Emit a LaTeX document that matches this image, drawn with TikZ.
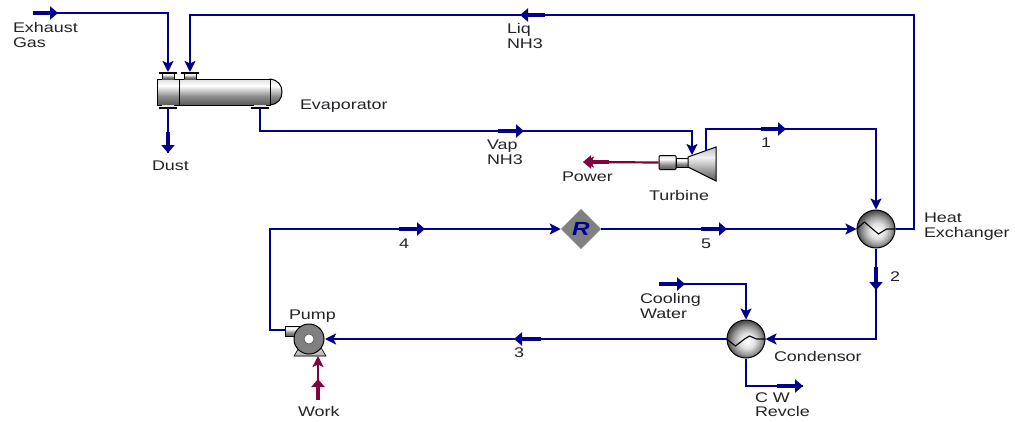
\documentclass[tikz,border=0pt]{standalone}
\usepackage{fontspec}
\setmainfont[FakeStretch=1.28]{Liberation Sans}
\usetikzlibrary{arrows.meta,shapes.geometric,calc}
\definecolor{flowblue}{RGB}{0,0,139}
\definecolor{workred}{RGB}{128,0,64}
\definecolor{labelgrey}{RGB}{35,35,40}
\pgfdeclareverticalshading{metalbody}{100bp}{color(0bp)=(black!65);color(25bp)=(black!65);color(42bp)=(black!45);color(62bp)=(white);color(75bp)=(black!12);color(100bp)=(black!35)}
\pgfdeclareverticalshading{turbshade}{100bp}{color(0bp)=(black!65);color(25bp)=(black!65);color(40bp)=(black!40);color(60bp)=(black!5);color(75bp)=(black!25);color(100bp)=(black!45)}
\pgfdeclareradialshading{metalball}{\pgfpoint{2bp}{-3bp}}{color(0bp)=(white);color(10bp)=(black!12);color(18bp)=(black!38);color(25bp)=(black!68);color(50bp)=(black!90)}
\tikzset{
  flow/.style={draw=flowblue,line width=2.2pt,line join=miter},
  flowin/.style={flow,-{Stealth[length=11pt,width=11pt,inset=2.5pt]}},
  flowmark/.style={draw=flowblue,line width=4.4pt,-{Triangle[length=8pt,width=13pt]}},
  powerline/.style={draw=workred,line width=2.2pt},
  powerin/.style={powerline,-{Stealth[length=11pt,width=11pt,inset=2.5pt]}},
  powermark/.style={draw=workred,line width=4.4pt,-{Triangle[length=8pt,width=13pt]}},
  lbl/.style={anchor=north west,inner sep=0pt,outer sep=0pt,align=left,text=labelgrey,font=\fontsize{14}{15}\selectfont},
  metal/.style={draw=black,line width=1pt,shading=metalbody},
  ball/.style={circle,draw=black,line width=1pt,shading=metalball,inner sep=0pt,minimum size=#1},
  flange/.style={draw=black,line width=1.6pt},
}
\begin{document}
\begin{tikzpicture}[x=1pt,y=-1pt]
\useasboundingbox[fill=white] (0,0) rectangle (1015,421);
% Evaporator
\draw[metal] (270,79) .. controls (278,80) and (282,85) .. (282,92) .. controls (282,99) and (278,104) .. (270,105) -- cycle;
\node[metal,rectangle,inner sep=0pt,minimum width=113pt,minimum height=26pt] (evap) at (213.5,92) {};
\coordinate (divtop) at (179,79);
\coordinate (divbot) at (179,105);
\draw[black,line width=.8pt] (divtop) -- (divbot);
\foreach \nx/\ny/\nm in {168/73/gasport,190/73/liqport}{
  \fill[shading=metalbody] (\nx-6,\ny) rectangle (\nx+6,\ny+6);
  \draw[black,line width=.6pt] (\nx-6,\ny) -- (\nx-6,\ny+6) (\nx+6,\ny) -- (\nx+6,\ny+6);
  \draw[flange] (\nx-9,\ny) -- (\nx+9,\ny);
  \coordinate (\nm) at (\nx,\ny-1);
}
\foreach \nx/\nm in {168/dustport,260/vapport}{
  \fill[shading=metalbody] (\nx-6,105) rectangle (\nx+6,108);
  \draw[flange] (\nx-9,108) -- (\nx+9,108);
  \coordinate (\nm) at (\nx,108);
}
% Turbine
\node[metal,rectangle,rounded corners=1pt,inner sep=0pt,minimum width=17pt,minimum height=14pt] (gen) at (667.5,162.5) {};
\node[metal,rectangle,inner sep=0pt,minimum width=12pt,minimum height=9pt] (shaft) at (682,162.5) {};
\draw[draw=black,line width=1pt,shading=turbshade] (688,157) -- (716,147) -- (716,181) -- (688,167) -- cycle;
\coordinate (turbin) at (692,155);
\coordinate (turbout) at (706,151);
% Heat exchanger, condensor
\node[ball=38pt] (hx) at (876,229) {};
\draw[black,line width=1.1pt] (hx.west) -- ++(8,-7) -- ++(8,7) -- ++(6,5) -- ++(8,-5) -- (hx.east);
\node[ball=38pt] (cond) at (746,339) {};
\draw[black,line width=1.1pt] (cond.west) -- ++(9,7) -- ++(9,-7) -- ++(5,-3) -- ++(7,3) -- (cond.east);
% Recycle block
\node[diamond,draw=black!35,line width=.5pt,fill=black!50,inner sep=0pt,minimum width=40pt,minimum height=40pt] (rec) at (581,229) {};
\node[text=flowblue,inner sep=0pt,font=\fontsize{19}{19}\selectfont\bfseries\itshape] (rtext) at (rec.center) {R};
% Pump
\fill[draw=black,line width=.6pt,top color=black!15,bottom color=black!30] (294,356) -- (300,346) -- (320,346) -- (326,356) -- cycle;
\draw[draw=black,line width=1pt,shading=metalbody] (285,326) rectangle (302,336);
\node[circle,draw=black,line width=1pt,fill=black!50,inner sep=0pt,minimum size=30pt] (pump) at (309,339) {};
\node[circle,draw=black!70,line width=.6pt,fill=white,inner sep=0pt,minimum size=10pt] (eye) at (309,339) {};
\coordinate (pumpout) at (285,330);
\coordinate (pumpin) at (325,339);
\coordinate (pumpwork) at (318,356);
% Free ends
\coordinate (gasfree) at (33,13);
\coordinate (coolfree) at (659,284);
\coordinate (cwfree) at (803,386);
\coordinate (powerfree) at (583,162);
\coordinate (workfree) at (318,400);
\coordinate (dustfree) at (168,153);
% Connectors
\draw[flowin] (gasfree) -| (gasport);
\draw[flowmark] (gasfree) -- (58,13);
\draw[flowin] (hx.east) -- (914,229) -- (914,15) -| (liqport);
\draw[flowmark] (545,15) -- (520,15);
\draw[flow] (dustport) -- (dustfree);
\draw[flowmark] (168,132) -- (dustfree);
\draw[flowin] (vapport) -- (260,131) -| (turbin);
\draw[flowmark] (498,131) -- (524,131);
\draw[flowin] (turbout) |- (800,129) -| (hx.north);
\draw[flowmark] (761,129) -- (786,129);
\draw[powerin] (gen.west) -- (powerfree);
\draw[powermark] (609,162) -- (powerfree);
\draw[flowin] (hx.south) |- (cond.east);
\draw[flowmark] (876,267) -- (876,290);
\draw[flowin] (cond.west) -- (pumpin);
\draw[flowmark] (541,339) -- (514,339);
\draw[flowin] (pumpout) -- (270,330) |- (rec.west);
\draw[flowmark] (399,229) -- (425,229);
\draw[flowin] (rec.east) -- (hx.west);
\draw[flowmark] (701,229) -- (727,229);
\draw[flowin] (coolfree) -| (cond.north);
\draw[flowmark] (coolfree) -- (685,284);
\draw[flow] (cond.south) |- (cwfree);
\draw[flowmark] (777,386) -- (cwfree);
\draw[powerin] (workfree) -- (pumpwork);
\draw[powermark] (workfree) -- (318,379);
% Labels
\node[lbl] (tgas) at (13,22) {Exhaust\\Gas};
\node[lbl] (tliq) at (507,23) {Liq\\NH3};
\node[lbl] (tevap) at (300,100) {Evaporator};
\node[lbl] (tdust) at (152,161) {Dust};
\node[lbl] (tvap) at (487,140) {Vap\\NH3};
\node[lbl] (tpower) at (562,172) {Power};
\node[lbl] (tturb) at (649,190) {Turbine};
\node[lbl] (tone) at (761,138) {1};
\node[lbl] (thx) at (924,213) {Heat\\Exchanger};
\node[lbl] (ttwo) at (890,272) {2};
\node[lbl] (tfour) at (399,239) {4};
\node[lbl] (tfive) at (701,239) {5};
\node[lbl] (tthree) at (514,348) {3};
\node[lbl] (tpump) at (289,310) {Pump};
\node[lbl] (twork) at (298,406) {Work};
\node[lbl] (tcool) at (640,293) {Cooling\\Water};
\node[lbl] (tcond) at (774,351) {Condensor};
\node[lbl,font=\fontsize{14}{13.5}\selectfont] (tcw) at (755,393) {C W\\Revcle};
\end{tikzpicture}
\end{document}
